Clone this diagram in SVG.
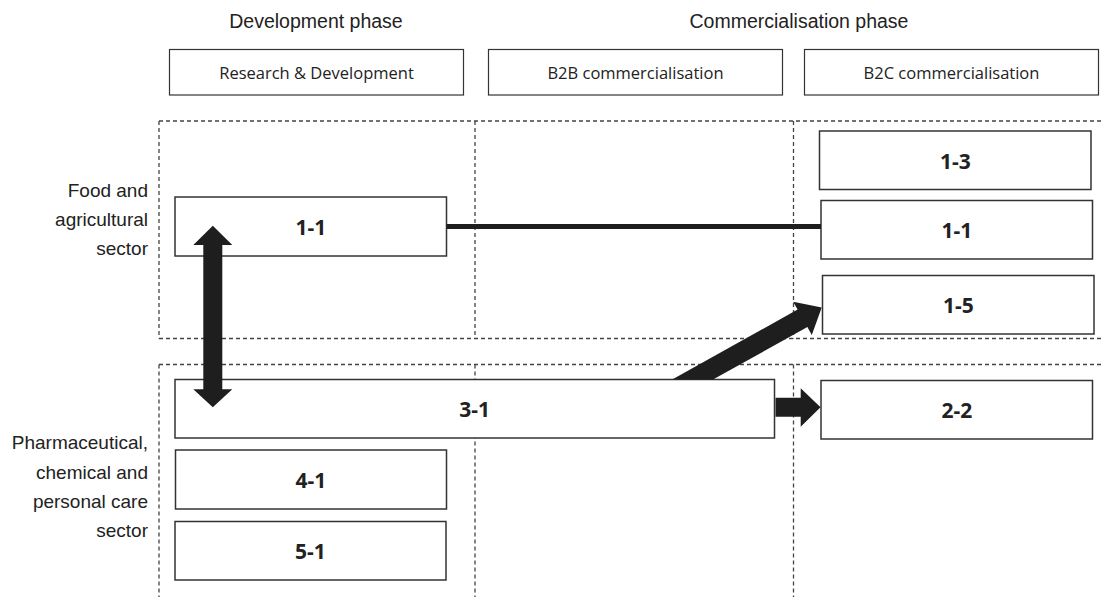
<svg xmlns="http://www.w3.org/2000/svg" width="1102" height="597" viewBox="0 0 1102 597">
  <style>
    .phase { font-family: "Liberation Sans", Arial, sans-serif; font-size: 19.5px; fill: #222; text-anchor: middle; }
    .sector { font-family: "Liberation Sans", Arial, sans-serif; font-size: 19px; fill: #222; text-anchor: end; }
    .head rect { fill: #fff; stroke: #333; stroke-width: 1.2; }
    .head text { font-family: "Open Sans", "Noto Sans", sans-serif; font-size: 16.5px; fill: #222; text-anchor: middle; }
    .node rect { fill: #fff; stroke: #333; stroke-width: 1.5; }
    .node text { font-family: "Open Sans", "Noto Sans", sans-serif; font-size: 21px; font-weight: bold; fill: #222; text-anchor: middle; }
    .grid line { stroke: #444; stroke-width: 1.3; stroke-dasharray: 4 3; }
    .link { stroke: #1e1e1e; stroke-width: 5; fill: none; }
    .fat { fill: #1e1e1e; stroke: none; }
  </style>

  <!-- phase titles -->
  <text class="phase" x="316" y="28">Development phase</text>
  <text class="phase" x="799" y="28">Commercialisation phase</text>

  <!-- column headers -->
  <g id="hdr-rd" class="head">
    <rect x="169.5" y="49.5" width="294" height="45.5"/>
    <text x="316.5" y="78.5">Research &amp; Development</text>
  </g>
  <g id="hdr-b2b" class="head">
    <rect x="488.5" y="49.5" width="294" height="45.5"/>
    <text x="635.5" y="78.5">B2B commercialisation</text>
  </g>
  <g id="hdr-b2c" class="head">
    <rect x="804.5" y="49.5" width="294" height="45.5"/>
    <text x="951.5" y="78.5">B2C commercialisation</text>
  </g>

  <!-- sector labels -->
  <text class="sector" x="148" y="197">Food and</text>
  <text class="sector" x="148" y="226">agricultural</text>
  <text class="sector" x="148" y="255">sector</text>
  <text class="sector" x="148" y="449">Pharmaceutical,</text>
  <text class="sector" x="148" y="479">chemical and</text>
  <text class="sector" x="148" y="508">personal care</text>
  <text class="sector" x="148" y="537">sector</text>

  <!-- dashed grid: one band per sector -->
  <g class="grid">
    <line x1="159" y1="121" x2="1102" y2="121"/>
    <line x1="159" y1="338.5" x2="1102" y2="338.5"/>
    <line x1="159" y1="121" x2="159" y2="338.5"/>
    <line x1="475" y1="121" x2="475" y2="338.5"/>
    <line x1="793.5" y1="121" x2="793.5" y2="338.5"/>
    <line x1="159" y1="364.5" x2="1102" y2="364.5"/>
    <line x1="159" y1="364.5" x2="159" y2="597"/>
    <line x1="475" y1="364.5" x2="475" y2="597"/>
    <line x1="793.5" y1="364.5" x2="793.5" y2="597"/>
  </g>

  <!-- nodes -->
  <g id="n-rd-1-1" class="node">
    <rect x="175" y="197" width="271.5" height="59"/>
    <text x="310.8" y="234.5">1-1</text>
  </g>
  <g id="n-b2c-1-3" class="node">
    <rect x="819.5" y="131" width="271.5" height="58.5"/>
    <text x="955.3" y="168.5">1-3</text>
  </g>
  <g id="n-b2c-1-1" class="node">
    <rect x="821" y="200.5" width="271.5" height="58.5"/>
    <text x="956.8" y="238">1-1</text>
  </g>
  <g id="n-b2c-1-5" class="node">
    <rect x="822.5" y="275.5" width="271.5" height="58.5"/>
    <text x="958.3" y="313">1-5</text>
  </g>
  <g id="n-rd-3-1" class="node">
    <rect x="175" y="379.5" width="599.5" height="58.5"/>
    <text x="474.7" y="417">3-1</text>
  </g>
  <g id="n-b2c-2-2" class="node">
    <rect x="821" y="380.5" width="271.5" height="58.5"/>
    <text x="956.8" y="418">2-2</text>
  </g>
  <g id="n-rd-4-1" class="node">
    <rect x="175.5" y="450" width="271" height="59"/>
    <text x="311" y="487.5">4-1</text>
  </g>
  <g id="n-rd-5-1" class="node">
    <rect x="175" y="521.5" width="271" height="58.5"/>
    <text x="310.5" y="559">5-1</text>
  </g>

  <!-- connectors -->
  <g id="connectors">
    <line class="link" x1="446.5" y1="226.5" x2="821" y2="226.5"/>
    <polygon class="fat" points="212.8,225.7 232.3,245 222.3,245 222.3,389.3 232.3,389.3 212.8,407.3 193.3,389.3 203.3,389.3 203.3,245 193.3,245"/>
    <polygon class="fat" points="672.2,379.5 797.6,309.6 793.2,301.7 821.7,307.5 811.8,334.9 807.4,327 713,379.5"/>
    <polygon class="fat" points="775.5,397.7 800.7,397.7 800.7,388.3 820.5,407.3 800.7,426.7 800.7,416.7 775.5,416.7"/>
  </g>
</svg>
